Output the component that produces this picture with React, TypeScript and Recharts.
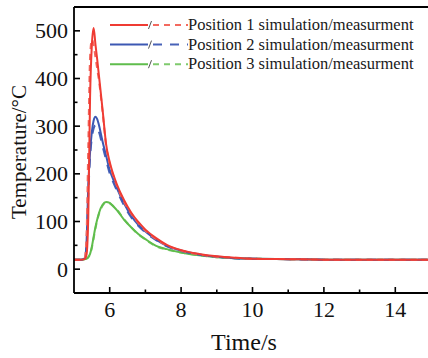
import { LineChart, Line, XAxis, YAxis, ReferenceLine } from "recharts";

const time = [5, 5.2, 5.3, 5.35, 5.4, 5.45, 5.5, 5.55, 5.6, 5.65, 5.7, 5.8, 5.9, 6.0, 6.1, 6.2, 6.4, 6.6, 6.8, 7.0, 7.3, 7.6, 8.0, 8.5, 9.0, 9.5, 10, 11, 12, 13, 14, 15];

const pos1Sim = [20, 20, 21, 30, 110, 360, 470, 506, 472, 440, 405, 335, 262, 225, 199, 178, 145, 119, 99, 83, 65, 51, 40, 32, 27, 24, 22, 21, 20, 20, 20, 20];
const pos1Meas = [20, 20, 24, 70, 260, 445, 482, 470, 445, 420, 395, 330, 259, 221, 196, 175, 142, 117, 97, 81, 63, 50, 39, 31, 26, 24, 22, 21, 20, 20, 20, 20];
const pos2Sim = [20, 20, 23, 55, 175, 245, 288, 312, 320, 315, 302, 268, 238, 208, 188, 170, 138, 112, 93, 79, 62, 49, 39, 31, 26, 23, 22, 21, 20, 20, 20, 20];
const pos2Meas = [20, 20, 22, 45, 155, 235, 275, 295, 302, 298, 288, 258, 229, 201, 182, 165, 134, 109, 91, 77, 61, 48, 38, 31, 26, 23, 22, 21, 20, 20, 20, 20];
const pos3Sim = [20, 20, 21, 22, 25, 32, 47, 68, 88, 104, 118, 135, 141, 139, 132, 124, 104, 88, 74, 63, 49, 42, 35, 29, 25, 23, 22, 21, 20, 20, 20, 20];
const pos3Meas = [20, 20, 21, 22, 25, 31, 45, 64, 85, 102, 116, 133, 140, 138, 132, 125, 105, 88, 73, 62, 48, 41, 35, 29, 25, 23, 22, 21, 20, 20, 20, 20];

const xTicks = [6, 7, 8, 9, 10, 11, 12, 13, 14];
const xLabels = [6, 8, 10, 12, 14];
const yTicks = [0, 50, 100, 150, 200, 250, 300, 350, 400, 450, 500];
const yLabels = [0, 100, 200, 300, 400, 500];

const legendItems = [
  { name: "Position 1 simulation/measurment", color: "#ef3b33", dashColor: "#f3695f", dash: "6 5" },
  { name: "Position 2 simulation/measurment", color: "#3c58b3", dashColor: "#4862b8", dash: "9 8" },
  { name: "Position 3 simulation/measurment", color: "#5fbd4c", dashColor: "#7fca6d", dash: "6 5" },
];

const data = time.map((t, i) => ({
  t,
  p1s: pos1Sim[i],
  p1m: pos1Meas[i],
  p2s: pos2Sim[i],
  p2m: pos2Meas[i],
  p3s: pos3Sim[i],
  p3m: pos3Meas[i],
}));

const FONT = "'Liberation Serif', 'Times New Roman', serif";

function XTick(props: any) {
  const { x, y, payload } = props;
  const major = xLabels.includes(payload.value);
  return (
    <g>
      <line x1={x} y1={y} x2={x} y2={y - (major ? 6 : 3.5)} stroke="#000" strokeWidth={1.6} />
      {major && (
        <text x={x} y={y + 24} textAnchor="middle" fontSize={22} fontFamily={FONT} fill="#111">
          {payload.value}
        </text>
      )}
    </g>
  );
}

function YTick(props: any) {
  const { x, y, payload } = props;
  const major = yLabels.includes(payload.value);
  return (
    <g>
      <line x1={x} y1={y} x2={x + (major ? 6 : 3.5)} y2={y} stroke="#000" strokeWidth={1.6} />
      {major && (
        <text x={x - 6} y={y + 7.5} textAnchor="end" fontSize={22} fontFamily={FONT} fill="#111">
          {payload.value}
        </text>
      )}
    </g>
  );
}

function LegendBox() {
  return (
    <svg width={428} height={80} style={{ position: "absolute", left: 0, top: 0 }}>
      {legendItems.map((it, i) => {
        const y = 25 + i * 19.6;
        return (
          <g key={it.name}>
            <line x1={110} y1={y} x2={148} y2={y} stroke={it.color} strokeWidth={2} />
            <line x1={148.5} y1={y + 4} x2={151.5} y2={y - 4} stroke="#555" strokeWidth={1} />
            <line x1={153} y1={y} x2={188} y2={y} stroke={it.dashColor} strokeWidth={2} strokeDasharray={it.dash} />
            <text x={188} y={y + 5} fontSize={16.5} fontFamily={FONT} fill="#1a1a1a">
              {it.name}
            </text>
          </g>
        );
      })}
    </svg>
  );
}

export default function App() {
  return (
    <div style={{ position: "absolute", left: 0, top: 0, width: 428, height: 358, overflow: "hidden", background: "#fff" }}>
      <LineChart width={432} height={358} data={data} margin={{ top: 7, right: 1, bottom: 0, left: 0 }}>
        <XAxis
          dataKey="t"
          type="number"
          domain={[5, 15]}
          ticks={xTicks}
          interval={0}
          tickSize={0}
          tickMargin={0}
          tickLine={false}
          tick={<XTick />}
          height={65}
          axisLine={{ stroke: "#000", strokeWidth: 1.8 }}
          allowDataOverflow
          label={{
            position: "insideBottom",
            content: () => (
              <text x={244} y={350} textAnchor="middle" fontSize={24} fontFamily={FONT} fill="#111">
                Time/s
              </text>
            ),
          }}
        />
        <YAxis
          type="number"
          domain={[-50, 550]}
          ticks={yTicks}
          interval={0}
          tickSize={0}
          tickMargin={0}
          tickLine={false}
          tick={<YTick />}
          width={74}
          axisLine={{ stroke: "#000", strokeWidth: 1.8 }}
          allowDataOverflow
          label={{
            position: "insideLeft",
            content: () => (
              <text
                x={19}
                y={152}
                transform="rotate(-90 19 152)"
                textAnchor="middle"
                dominantBaseline="central"
                fontSize={21}
                fontFamily={FONT}
                fill="#111"
              >
                Temperature/°C
              </text>
            ),
          }}
        />
        <ReferenceLine y={550} stroke="#000" strokeWidth={2} />
        <Line type="monotone" dataKey="p3m" stroke={legendItems[2].dashColor} strokeWidth={2} strokeDasharray={legendItems[2].dash} dot={false} isAnimationActive={false} />
        <Line type="monotone" dataKey="p3s" stroke={legendItems[2].color} strokeWidth={2} dot={false} isAnimationActive={false} />
        <Line type="monotone" dataKey="p2m" stroke={legendItems[1].dashColor} strokeWidth={2} strokeDasharray={legendItems[1].dash} dot={false} isAnimationActive={false} />
        <Line type="monotone" dataKey="p2s" stroke={legendItems[1].color} strokeWidth={2} dot={false} isAnimationActive={false} />
        <Line type="monotone" dataKey="p1m" stroke={legendItems[0].dashColor} strokeWidth={2} strokeDasharray={legendItems[0].dash} dot={false} isAnimationActive={false} />
        <Line type="monotone" dataKey="p1s" stroke={legendItems[0].color} strokeWidth={2} dot={false} isAnimationActive={false} />
      </LineChart>
      <LegendBox />
    </div>
  );
}
